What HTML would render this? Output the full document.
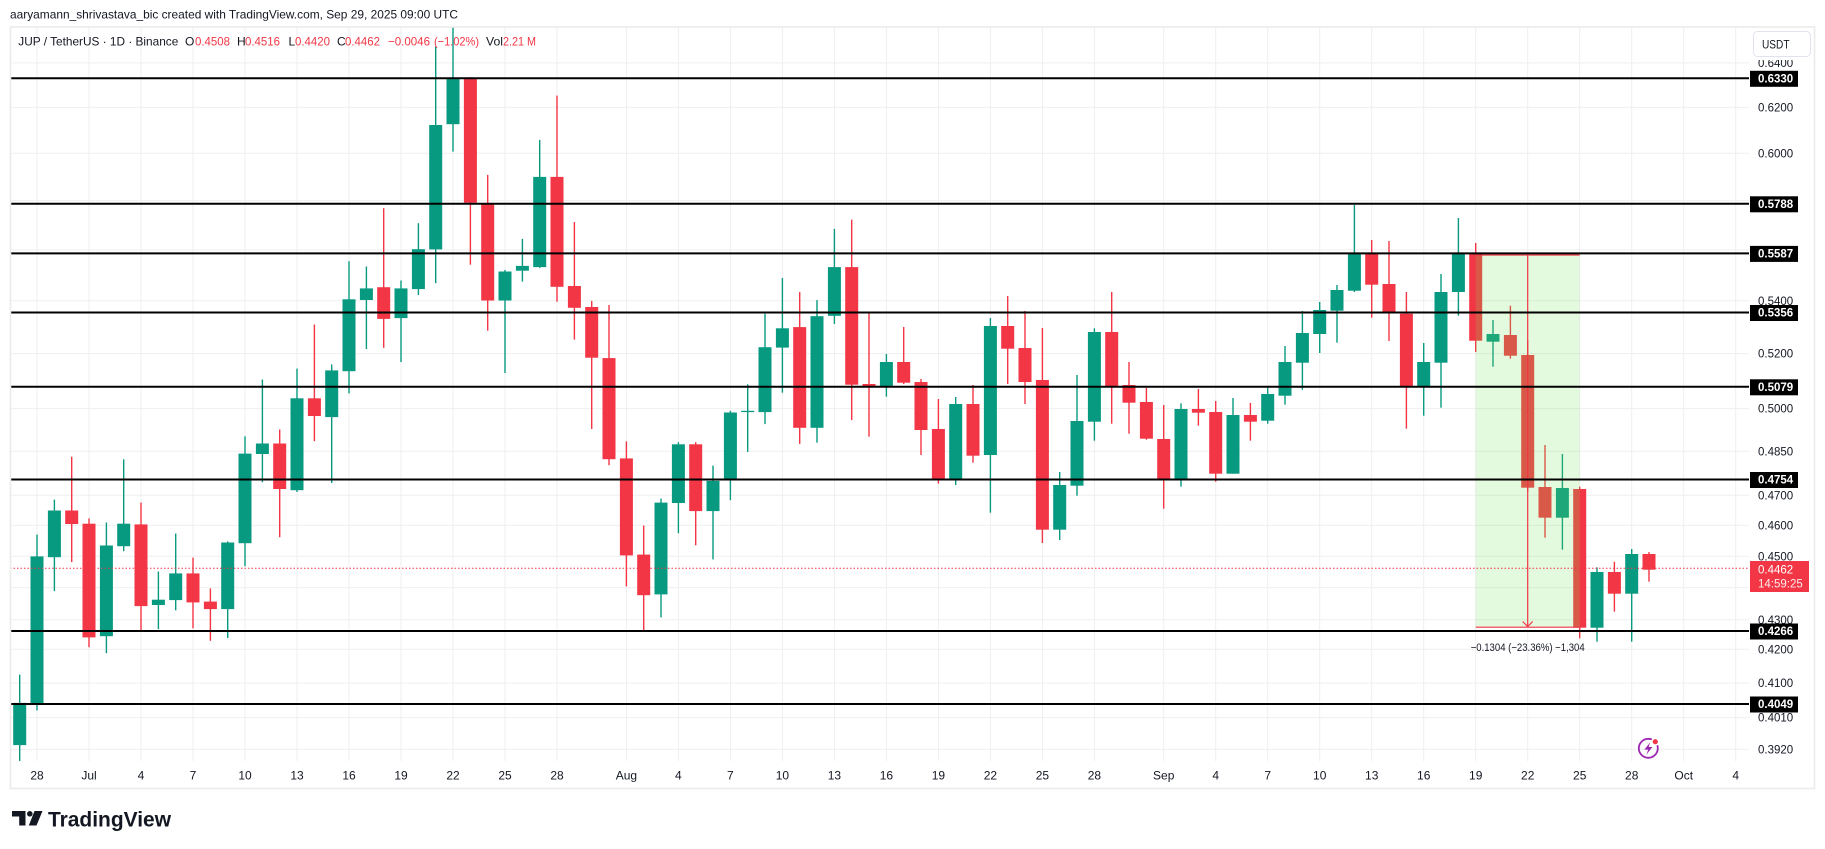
<!DOCTYPE html>
<html><head><meta charset="utf-8"><style>
html,body{margin:0;padding:0;background:#fff;width:1825px;height:849px;overflow:hidden}
svg{display:block}
text{font-family:"Liberation Sans",Arial,sans-serif}
</style></head><body>
<svg width="1825" height="849" viewBox="0 0 1825 849" xmlns="http://www.w3.org/2000/svg">
<rect width="1825" height="849" fill="#fff"/>
<!-- grid -->
<g stroke="#efefef" stroke-width="1">
<path d="M37,27V761M89,27V761M141,27V761M193,27V761M245,27V761M297,27V761M349,27V761M401,27V761M453,27V761M505,27V761M557,27V761M626.4,27V761M678.4,27V761M730.4,27V761M782.4,27V761M834.4,27V761M886.4,27V761M938.4,27V761M990.4,27V761M1042.4,27V761M1094.4,27V761M1163.7,27V761M1215.7,27V761M1267.7,27V761M1319.7,27V761M1371.7,27V761M1423.7,27V761M1475.7,27V761M1527.7,27V761M1579.7,27V761M1631.7,27V761M1683.7,27V761M1735.7,27V761"/>
<path d="M10,62.9H1749M10,107.4H1749M10,153.3H1749M10,200.8H1749M10,249.9H1749M10,300.8H1749M10,353.6H1749M10,408.6H1749M10,451.2H1749M10,495.2H1749M10,525.4H1749M10,556.2H1749M10,587.6H1749M10,619.8H1749M10,649.3H1749M10,683.1H1749M10,717.6H1749M10,749.4H1749"/>
</g>
<!-- green candles -->
<g fill="#089981">
<rect x="19.0" y="674.6" width="1.4" height="86.3"/><rect x="13.2" y="702.9" width="13" height="42.2"/>
<rect x="36.3" y="534.6" width="1.4" height="175.8"/><rect x="30.5" y="556.4" width="13" height="147.2"/>
<rect x="53.7" y="499.6" width="1.4" height="91.5"/><rect x="47.9" y="510.5" width="13" height="46.7"/>
<rect x="105.7" y="522.5" width="1.4" height="130.7"/><rect x="99.9" y="545.5" width="13" height="90.7"/>
<rect x="123.0" y="459.3" width="1.4" height="91.9"/><rect x="117.2" y="523.7" width="13" height="22.5"/>
<rect x="157.7" y="571.5" width="1.4" height="57.6"/><rect x="151.9" y="599.7" width="13" height="5.3"/>
<rect x="175.0" y="533.5" width="1.4" height="76.8"/><rect x="169.2" y="573.4" width="13" height="26.7"/>
<rect x="227.0" y="541.4" width="1.4" height="96.7"/><rect x="221.2" y="542.5" width="13" height="66.6"/>
<rect x="244.3" y="436.3" width="1.4" height="129.9"/><rect x="238.5" y="453.6" width="13" height="89.6"/>
<rect x="261.7" y="379.5" width="1.4" height="102.8"/><rect x="255.9" y="443.5" width="13" height="10.5"/>
<rect x="296.3" y="368.6" width="1.4" height="123.4"/><rect x="290.5" y="398.3" width="13" height="91.9"/>
<rect x="331.0" y="364.4" width="1.4" height="118.6"/><rect x="325.2" y="370.4" width="13" height="46.7"/>
<rect x="348.3" y="261.2" width="1.4" height="132.2"/><rect x="342.5" y="299.3" width="13" height="71.9"/>
<rect x="365.7" y="266.5" width="1.4" height="82.5"/><rect x="359.9" y="288.4" width="13" height="11.6"/>
<rect x="400.3" y="280.5" width="1.4" height="81.6"/><rect x="394.5" y="288.4" width="13" height="29.7"/>
<rect x="417.7" y="223.2" width="1.4" height="71.9"/><rect x="411.9" y="249.2" width="13" height="39.9"/>
<rect x="435.0" y="46.5" width="1.4" height="236.7"/><rect x="429.2" y="125.0" width="13" height="124.4"/>
<rect x="452.3" y="26.8" width="1.4" height="124.8"/><rect x="446.5" y="79.1" width="13" height="45.1"/>
<rect x="504.3" y="269.9" width="1.4" height="103.1"/><rect x="498.5" y="271.5" width="13" height="29.0"/>
<rect x="521.7" y="238.9" width="1.4" height="42.7"/><rect x="515.9" y="265.9" width="13" height="4.8"/>
<rect x="539.0" y="139.9" width="1.4" height="128.0"/><rect x="533.2" y="176.9" width="13" height="90.2"/>
<rect x="660.3" y="498.6" width="1.4" height="118.8"/><rect x="654.5" y="502.6" width="13" height="91.8"/>
<rect x="677.7" y="442.2" width="1.4" height="91.0"/><rect x="671.9" y="444.3" width="13" height="58.7"/>
<rect x="712.3" y="465.6" width="1.4" height="93.8"/><rect x="706.5" y="480.9" width="13" height="30.2"/>
<rect x="729.7" y="410.8" width="1.4" height="89.4"/><rect x="723.9" y="412.5" width="13" height="67.2"/>
<rect x="747.0" y="384.3" width="1.4" height="67.6"/><rect x="741.2" y="410.8" width="13" height="1.3"/>
<rect x="764.3" y="313.8" width="1.4" height="110.3"/><rect x="758.5" y="347.2" width="13" height="64.9"/>
<rect x="781.7" y="278.0" width="1.4" height="114.7"/><rect x="775.9" y="328.3" width="13" height="19.3"/>
<rect x="816.3" y="300.1" width="1.4" height="142.6"/><rect x="810.5" y="316.2" width="13" height="111.6"/>
<rect x="833.7" y="228.9" width="1.4" height="95.0"/><rect x="827.9" y="267.1" width="13" height="48.7"/>
<rect x="885.7" y="354.0" width="1.4" height="42.7"/><rect x="879.9" y="362.0" width="13" height="24.0"/>
<rect x="955.0" y="397.0" width="1.4" height="88.0"/><rect x="949.2" y="404.0" width="13" height="75.0"/>
<rect x="989.7" y="318.0" width="1.4" height="194.7"/><rect x="983.9" y="326.0" width="13" height="129.0"/>
<rect x="1059.0" y="472.0" width="1.4" height="68.0"/><rect x="1053.2" y="485.0" width="13" height="44.7"/>
<rect x="1076.3" y="375.0" width="1.4" height="120.7"/><rect x="1070.5" y="421.0" width="13" height="64.7"/>
<rect x="1093.7" y="328.3" width="1.4" height="112.4"/><rect x="1087.9" y="332.0" width="13" height="89.7"/>
<rect x="1180.3" y="403.3" width="1.4" height="83.4"/><rect x="1174.5" y="409.0" width="13" height="70.0"/>
<rect x="1232.3" y="398.0" width="1.4" height="75.7"/><rect x="1226.5" y="415.0" width="13" height="58.7"/>
<rect x="1267.0" y="387.7" width="1.4" height="36.0"/><rect x="1261.2" y="394.0" width="13" height="26.7"/>
<rect x="1284.3" y="346.0" width="1.4" height="58.7"/><rect x="1278.5" y="362.0" width="13" height="33.7"/>
<rect x="1301.7" y="311.0" width="1.4" height="78.7"/><rect x="1295.9" y="333.0" width="13" height="29.7"/>
<rect x="1319.0" y="302.0" width="1.4" height="51.0"/><rect x="1313.2" y="310.0" width="13" height="24.0"/>
<rect x="1336.3" y="285.0" width="1.4" height="57.7"/><rect x="1330.5" y="290.0" width="13" height="20.7"/>
<rect x="1353.7" y="205.0" width="1.4" height="87.0"/><rect x="1347.9" y="254.0" width="13" height="36.7"/>
<rect x="1423.0" y="343.0" width="1.4" height="72.7"/><rect x="1417.2" y="362.0" width="13" height="24.0"/>
<rect x="1440.3" y="274.0" width="1.4" height="133.7"/><rect x="1434.5" y="292.0" width="13" height="70.7"/>
<rect x="1457.7" y="218.0" width="1.4" height="97.7"/><rect x="1451.9" y="254.0" width="13" height="38.0"/>
<rect x="1492.3" y="320.0" width="1.4" height="46.7"/><rect x="1486.5" y="334.0" width="13" height="7.7"/>
<rect x="1561.7" y="454.0" width="1.4" height="95.7"/><rect x="1555.9" y="488.0" width="13" height="29.7"/>
<rect x="1596.3" y="567.3" width="1.4" height="74.4"/><rect x="1590.5" y="572.0" width="13" height="55.7"/>
<rect x="1631.0" y="549.0" width="1.4" height="92.7"/><rect x="1625.2" y="554.0" width="13" height="39.7"/>
</g>
<!-- red candles -->
<g fill="#f23645">
<rect x="71.0" y="456.7" width="1.4" height="105.4"/><rect x="65.2" y="510.5" width="13" height="13.5"/>
<rect x="88.3" y="518.4" width="1.4" height="128.8"/><rect x="82.5" y="523.7" width="13" height="113.7"/>
<rect x="140.3" y="502.6" width="1.4" height="127.6"/><rect x="134.5" y="524.4" width="13" height="81.7"/>
<rect x="192.3" y="557.6" width="1.4" height="70.7"/><rect x="186.5" y="573.4" width="13" height="29.0"/>
<rect x="209.7" y="588.4" width="1.4" height="52.4"/><rect x="203.9" y="601.6" width="13" height="7.5"/>
<rect x="279.0" y="429.5" width="1.4" height="107.7"/><rect x="273.2" y="443.5" width="13" height="45.5"/>
<rect x="313.7" y="324.5" width="1.4" height="116.7"/><rect x="307.9" y="398.3" width="13" height="17.7"/>
<rect x="383.0" y="208.2" width="1.4" height="139.6"/><rect x="377.2" y="287.2" width="13" height="31.7"/>
<rect x="469.7" y="77.1" width="1.4" height="187.6"/><rect x="463.9" y="79.1" width="13" height="123.6"/>
<rect x="487.0" y="174.9" width="1.4" height="155.8"/><rect x="481.2" y="203.9" width="13" height="96.6"/>
<rect x="556.3" y="95.6" width="1.4" height="206.1"/><rect x="550.5" y="176.9" width="13" height="109.9"/>
<rect x="573.7" y="222.0" width="1.4" height="117.6"/><rect x="567.9" y="286.0" width="13" height="21.8"/>
<rect x="591.0" y="300.9" width="1.4" height="128.1"/><rect x="585.2" y="307.0" width="13" height="50.7"/>
<rect x="608.3" y="305.0" width="1.4" height="160.2"/><rect x="602.5" y="358.1" width="13" height="101.1"/>
<rect x="625.7" y="441.4" width="1.4" height="145.0"/><rect x="619.9" y="458.4" width="13" height="97.0"/>
<rect x="643.0" y="525.6" width="1.4" height="104.7"/><rect x="637.2" y="554.6" width="13" height="40.6"/>
<rect x="695.0" y="442.2" width="1.4" height="103.1"/><rect x="689.2" y="444.3" width="13" height="66.8"/>
<rect x="799.0" y="292.1" width="1.4" height="151.8"/><rect x="793.2" y="327.1" width="13" height="100.7"/>
<rect x="851.0" y="219.6" width="1.4" height="200.5"/><rect x="845.2" y="267.1" width="13" height="117.6"/>
<rect x="868.3" y="313.3" width="1.4" height="123.4"/><rect x="862.5" y="384.0" width="13" height="2.0"/>
<rect x="903.0" y="327.0" width="1.4" height="57.0"/><rect x="897.2" y="362.0" width="13" height="20.7"/>
<rect x="920.3" y="379.0" width="1.4" height="76.0"/><rect x="914.5" y="382.0" width="13" height="48.0"/>
<rect x="937.7" y="399.0" width="1.4" height="84.7"/><rect x="931.9" y="429.0" width="13" height="50.0"/>
<rect x="972.3" y="385.0" width="1.4" height="77.7"/><rect x="966.5" y="404.0" width="13" height="51.7"/>
<rect x="1007.0" y="296.0" width="1.4" height="88.0"/><rect x="1001.2" y="326.0" width="13" height="22.7"/>
<rect x="1024.3" y="311.0" width="1.4" height="93.0"/><rect x="1018.5" y="348.0" width="13" height="34.0"/>
<rect x="1041.7" y="328.0" width="1.4" height="215.0"/><rect x="1035.9" y="380.0" width="13" height="149.7"/>
<rect x="1111.0" y="292.0" width="1.4" height="131.7"/><rect x="1105.2" y="332.0" width="13" height="54.0"/>
<rect x="1128.3" y="362.0" width="1.4" height="71.7"/><rect x="1122.5" y="385.0" width="13" height="17.7"/>
<rect x="1145.7" y="388.0" width="1.4" height="51.7"/><rect x="1139.9" y="402.0" width="13" height="36.7"/>
<rect x="1163.0" y="405.0" width="1.4" height="103.7"/><rect x="1157.2" y="439.0" width="13" height="40.0"/>
<rect x="1197.7" y="389.0" width="1.4" height="36.7"/><rect x="1191.9" y="409.0" width="13" height="3.7"/>
<rect x="1215.0" y="401.0" width="1.4" height="80.7"/><rect x="1209.2" y="412.0" width="13" height="61.7"/>
<rect x="1249.7" y="403.0" width="1.4" height="37.7"/><rect x="1243.9" y="415.0" width="13" height="6.7"/>
<rect x="1371.0" y="240.0" width="1.4" height="77.7"/><rect x="1365.2" y="254.0" width="13" height="30.7"/>
<rect x="1388.3" y="241.0" width="1.4" height="100.0"/><rect x="1382.5" y="284.0" width="13" height="28.0"/>
<rect x="1405.7" y="292.0" width="1.4" height="136.7"/><rect x="1399.9" y="313.7" width="13" height="72.3"/>
<rect x="1475.0" y="243.0" width="1.4" height="109.0"/><rect x="1469.2" y="254.0" width="13" height="86.7"/>
<rect x="1509.7" y="305.7" width="1.4" height="53.0"/><rect x="1503.9" y="335.0" width="13" height="20.7"/>
<rect x="1527.0" y="340.0" width="1.4" height="152.0"/><rect x="1521.2" y="355.0" width="13" height="132.7"/>
<rect x="1544.3" y="445.0" width="1.4" height="92.7"/><rect x="1538.5" y="487.0" width="13" height="30.7"/>
<rect x="1579.0" y="486.7" width="1.4" height="151.6"/><rect x="1573.2" y="489.0" width="13" height="138.7"/>
<rect x="1613.7" y="561.7" width="1.4" height="50.0"/><rect x="1607.9" y="572.0" width="13" height="21.7"/>
<rect x="1648.3" y="552.0" width="1.4" height="29.7"/><rect x="1642.5" y="554.0" width="13" height="15.7"/>
</g>
<!-- price range zone -->
<rect x="1475.7" y="253.7" width="104" height="373.8" fill="rgb(120,230,90)" fill-opacity="0.2"/>
<g stroke="#f23645" stroke-width="1.2" fill="none">
<path d="M1475.7,255H1579.7M1475.7,627.2H1579.7M1527.7,255V627"/>
<path d="M1522.7,621.5L1527.7,626.5L1532.7,621.5"/>
</g>
<text x="1527.7" y="651" font-size="11" fill="#131722" text-anchor="middle" textLength="114" lengthAdjust="spacingAndGlyphs">−0.1304 (−23.36%) −1,304</text>
<!-- current price dotted line -->
<path d="M10,568.3H1749" stroke="#f23645" stroke-width="1" stroke-dasharray="1.5 2"/>
<!-- horizontal level lines -->
<g stroke="#000" stroke-width="2">
<path d="M10,78.3H1749M10,203.8H1749M10,253.4H1749M10,312.5H1749M10,386.8H1749M10,479.5H1749M10,631H1749M10,704H1749"/>
</g>
<!-- header -->
<text x="10" y="18.5" font-size="12" fill="#131722" textLength="448" lengthAdjust="spacingAndGlyphs">aaryamann_shrivastava_bic created with TradingView.com, Sep 29, 2025 09:00 UTC</text>
<g font-size="12">
<text x="18.3" y="45.5" fill="#131722" textLength="160" lengthAdjust="spacingAndGlyphs">JUP / TetherUS · 1D · Binance</text>
<text x="185" y="45.5" fill="#131722">O</text><text x="195" y="45.5" fill="#f23645" textLength="35" lengthAdjust="spacingAndGlyphs">0.4508</text>
<text x="237" y="45.5" fill="#131722">H</text><text x="245" y="45.5" fill="#f23645" textLength="35" lengthAdjust="spacingAndGlyphs">0.4516</text>
<text x="288.5" y="45.5" fill="#131722">L</text><text x="295" y="45.5" fill="#f23645" textLength="35" lengthAdjust="spacingAndGlyphs">0.4420</text>
<text x="337" y="45.5" fill="#131722">C</text><text x="345" y="45.5" fill="#f23645" textLength="35" lengthAdjust="spacingAndGlyphs">0.4462</text>
<text x="388" y="45.5" fill="#f23645" textLength="42" lengthAdjust="spacingAndGlyphs">−0.0046</text>
<text x="434" y="45.5" fill="#f23645" textLength="45" lengthAdjust="spacingAndGlyphs">(−1.02%)</text>
<text x="486" y="45.5" fill="#131722" textLength="17" lengthAdjust="spacingAndGlyphs">Vol</text>
<text x="503" y="45.5" fill="#f23645" textLength="33" lengthAdjust="spacingAndGlyphs">2.21 M</text>
</g>
<!-- price axis labels -->
<g font-size="11.5" fill="#131722">
<text x="1758" y="67">0.6400</text>
<text x="1758" y="111.5">0.6200</text>
<text x="1758" y="157.4">0.6000</text>
<text x="1758" y="304.9">0.5400</text>
<text x="1758" y="357.7">0.5200</text>
<text x="1758" y="412.7">0.5000</text>
<text x="1758" y="455.3">0.4850</text>
<text x="1758" y="499.3">0.4700</text>
<text x="1758" y="529.5">0.4600</text>
<text x="1758" y="560.3">0.4500</text>
<text x="1758" y="591.7">0.4400</text>
<text x="1758" y="623.9">0.4300</text>
<text x="1758" y="653.4">0.4200</text>
<text x="1758" y="687.2">0.4100</text>
<text x="1758" y="721.7">0.4010</text>
<text x="1758" y="753.5">0.3920</text>
</g>
<!-- USDT button -->
<rect x="1749" y="28" width="65" height="32" fill="#fff"/>
<rect x="1753.5" y="31.5" width="57" height="25" rx="4" fill="#fff" stroke="#e0e3eb" stroke-width="1"/>
<text x="1762" y="48.5" font-size="12" fill="#131722" textLength="27.5" lengthAdjust="spacingAndGlyphs">USDT</text>
<!-- level labels -->
<g>
<rect x="1750" y="70.8" width="48" height="16" fill="#000"/>
<rect x="1750" y="196.3" width="48" height="16" fill="#000"/>
<rect x="1750" y="245.9" width="48" height="16" fill="#000"/>
<rect x="1750" y="305" width="48" height="16" fill="#000"/>
<rect x="1750" y="379.3" width="48" height="16" fill="#000"/>
<rect x="1750" y="472" width="48" height="16" fill="#000"/>
<rect x="1750" y="623.5" width="48" height="16" fill="#000"/>
<rect x="1750" y="696.5" width="48" height="16" fill="#000"/>
</g>
<g font-size="11.5" font-weight="bold" fill="#fff">
<text x="1758" y="82.5">0.6330</text>
<text x="1758" y="208">0.5788</text>
<text x="1758" y="257.6">0.5587</text>
<text x="1758" y="316.7">0.5356</text>
<text x="1758" y="391">0.5079</text>
<text x="1758" y="483.7">0.4754</text>
<text x="1758" y="635.2">0.4266</text>
<text x="1758" y="708.2">0.4049</text>
</g>
<!-- current price label -->
<rect x="1750" y="561" width="59" height="31" fill="#f23645"/>
<text x="1758" y="573.5" font-size="11.5" fill="#fff">0.4462</text>
<text x="1758" y="587.5" font-size="11.5" fill="#fff" fill-opacity="0.9">14:59:25</text>
<!-- time axis labels -->
<g font-size="12" fill="#131722" text-anchor="middle">
<text x="37" y="779.5">28</text>
<text x="89" y="779.5">Jul</text>
<text x="141" y="779.5">4</text>
<text x="193" y="779.5">7</text>
<text x="245" y="779.5">10</text>
<text x="297" y="779.5">13</text>
<text x="349" y="779.5">16</text>
<text x="401" y="779.5">19</text>
<text x="453" y="779.5">22</text>
<text x="505" y="779.5">25</text>
<text x="557" y="779.5">28</text>
<text x="626.4" y="779.5">Aug</text>
<text x="678.4" y="779.5">4</text>
<text x="730.4" y="779.5">7</text>
<text x="782.4" y="779.5">10</text>
<text x="834.4" y="779.5">13</text>
<text x="886.4" y="779.5">16</text>
<text x="938.4" y="779.5">19</text>
<text x="990.4" y="779.5">22</text>
<text x="1042.4" y="779.5">25</text>
<text x="1094.4" y="779.5">28</text>
<text x="1163.7" y="779.5">Sep</text>
<text x="1215.7" y="779.5">4</text>
<text x="1267.7" y="779.5">7</text>
<text x="1319.7" y="779.5">10</text>
<text x="1371.7" y="779.5">13</text>
<text x="1423.7" y="779.5">16</text>
<text x="1475.7" y="779.5">19</text>
<text x="1527.7" y="779.5">22</text>
<text x="1579.7" y="779.5">25</text>
<text x="1631.7" y="779.5">28</text>
<text x="1683.7" y="779.5">Oct</text>
<text x="1735.7" y="779.5">4</text>
</g>
<!-- lightning icon -->
<circle cx="1648.3" cy="748.3" r="9.5" fill="none" stroke="#9c27b0" stroke-width="1.8"/>
<circle cx="1655.3" cy="741.7" r="4.2" fill="#fff"/>
<circle cx="1655.3" cy="741.7" r="2.6" fill="#f23645"/>
<path d="M1650.3,742.3L1644.3,749.6H1648.2L1646.4,754.6L1652.4,747H1648.6Z" fill="#9c27b0"/>
<!-- frame -->
<rect x="10.5" y="27" width="1804" height="761.5" fill="none" stroke="#ebebeb" stroke-width="1.6"/>
<!-- TradingView logo -->
<g fill="#131722">
<path d="M12,811H25.5V825.5H19.2V816.5H12Z"/>
<circle cx="29.8" cy="813.8" r="2.8"/>
<path d="M34.5,811H42.5L36.5,825.5H28.8Z"/>
</g>
<text x="48" y="826.5" font-size="21" font-weight="bold" fill="#131722" textLength="123" lengthAdjust="spacingAndGlyphs">TradingView</text>
</svg>
</body></html>
